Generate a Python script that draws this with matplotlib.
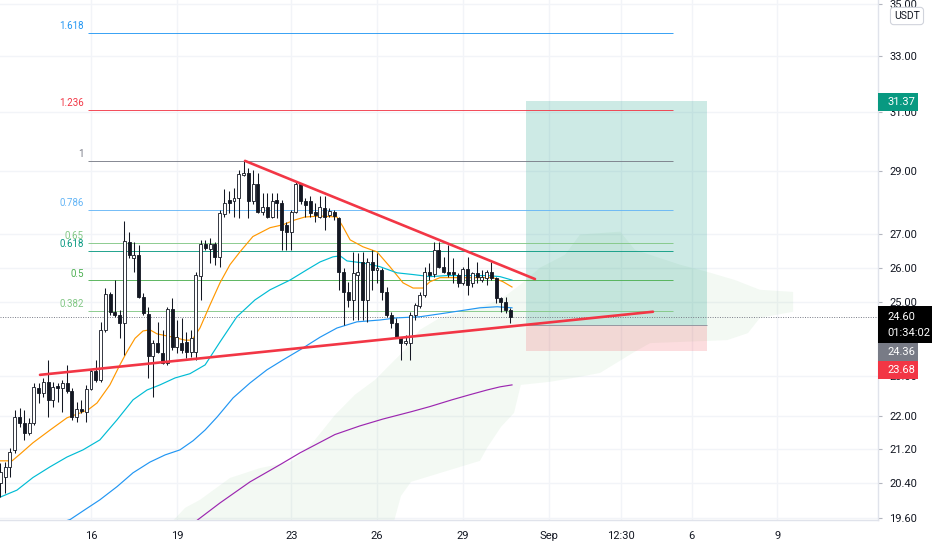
import numpy as np
import matplotlib
matplotlib.use("Agg")
import matplotlib.pyplot as plt
from matplotlib.patches import Rectangle, Polygon
from matplotlib.ticker import NullLocator

plt.rcParams['font.family'] = ['Roboto', 'DejaVu Sans']

# ---------------- data ----------------
# 4h candles, last bar Aug 30 16:00 (x axis = day of month, Sep = 31 + d)
last_bar_day = 30 + 16 / 24
bars_per_day = 6

opens = [20.40, 20.54, 20.77, 21.17, 21.97, 21.83, 21.58, 21.83, 22.71, 22.58,
         22.86, 22.40, 22.76, 22.71, 22.83, 22.63, 21.97, 22.18, 22.10, 22.68,
         23.14, 22.91, 24.24, 25.24, 24.74, 24.65, 24.43, 26.75, 26.29, 26.38,
         25.16, 24.68, 23.54, 23.88, 23.62, 23.36, 24.82, 23.78, 23.88, 23.91,
         23.65, 23.65, 25.77, 26.71, 26.56, 26.71, 26.32, 27.62, 28.06, 28.02,
         28.14, 28.85, 28.94, 28.02, 28.56, 27.69, 27.85, 27.53, 28.06, 27.98,
         27.29, 27.08, 27.69, 28.56, 28.02, 28.02, 27.69, 27.53, 27.82, 27.60,
         27.69, 27.50, 25.88, 25.30, 25.07, 25.80, 26.17, 25.07, 26.17, 25.94,
         25.94, 25.30, 24.65, 24.43, 24.04, 23.88, 23.88, 24.65, 24.90, 25.21,
         25.88, 25.82, 26.53, 26.03, 25.88, 25.88, 25.80, 25.56, 25.97, 25.56,
         25.85, 25.64, 25.71, 25.88, 25.71, 25.13, 25.02, 24.79]
highs = [20.86, 20.88, 21.22, 22.15, 22.20, 22.15, 21.95, 22.83, 22.83, 22.96,
         23.43, 22.86, 22.83, 22.91, 23.30, 22.71, 22.35, 22.40, 22.78, 23.20,
         23.43, 24.46, 25.41, 25.30, 25.64, 24.79, 27.41, 27.08, 26.75, 26.68,
         25.27, 24.88, 23.96, 24.46, 24.24, 24.88, 25.13, 24.51, 24.57, 24.18,
         24.24, 25.88, 26.83, 26.83, 26.89, 26.77, 27.75, 28.42, 28.34, 28.46,
         29.03, 29.33, 29.10, 29.03, 28.94, 28.30, 28.30, 28.30, 28.30, 28.06,
         27.38, 27.75, 28.66, 28.62, 28.14, 28.18, 27.98, 28.18, 28.18, 27.82,
         27.75, 27.53, 26.00, 25.59, 26.47, 26.44, 26.47, 26.29, 26.53, 26.44,
         26.00, 25.44, 24.74, 24.57, 24.04, 24.10, 24.74, 24.99, 25.30, 26.03,
         26.14, 26.77, 26.75, 26.32, 26.68, 26.29, 25.85, 26.03, 26.32, 25.88,
         26.17, 25.94, 25.94, 26.17, 25.74, 25.16, 25.16, 24.85]
lows = [20.07, 20.17, 20.54, 21.10, 21.73, 21.41, 21.53, 21.78, 22.32, 22.48,
        21.97, 22.22, 22.35, 22.10, 22.58, 21.90, 21.85, 22.07, 21.85, 22.65,
        22.86, 22.86, 24.18, 24.65, 24.60, 24.01, 23.57, 26.29, 25.88, 25.13,
        24.65, 22.96, 22.48, 23.62, 23.33, 23.30, 23.70, 23.62, 23.62, 23.49,
        23.51, 23.43, 25.07, 26.53, 26.14, 26.09, 26.03, 27.53, 27.65, 27.53,
        27.50, 28.82, 27.50, 27.95, 27.65, 27.60, 27.50, 27.50, 27.50, 26.53,
        26.53, 26.53, 27.65, 27.95, 27.53, 27.53, 27.38, 27.50, 27.13, 27.53,
        27.44, 25.36, 24.37, 24.88, 24.51, 24.51, 24.51, 24.46, 25.36, 25.56,
        25.07, 24.60, 24.29, 24.01, 23.43, 23.83, 23.43, 24.51, 24.85, 25.16,
        25.64, 25.74, 26.00, 25.85, 25.74, 25.56, 25.45, 25.50, 25.21, 25.45,
        25.56, 25.59, 25.50, 25.64, 24.99, 24.74, 24.71, 24.43]
closes = [20.65, 20.77, 21.12, 21.97, 21.83, 21.58, 21.83, 22.73, 22.58, 22.86,
          22.40, 22.73, 22.71, 22.83, 22.63, 21.97, 22.18, 22.12, 22.68, 23.14,
          22.91, 24.24, 25.24, 24.74, 24.65, 24.43, 26.78, 26.38, 26.38, 25.16,
          24.71, 23.54, 23.88, 23.65, 23.36, 24.82, 23.78, 24.04, 23.70, 23.65,
          24.01, 25.80, 26.71, 26.59, 26.71, 26.32, 27.65, 27.98, 27.98, 28.14,
          28.91, 28.94, 28.02, 28.56, 27.69, 27.85, 27.53, 28.02, 27.98, 27.13,
          27.08, 27.69, 28.56, 28.02, 27.92, 27.65, 27.60, 27.85, 27.53, 27.72,
          27.57, 25.88, 25.30, 25.07, 25.85, 25.88, 25.07, 26.17, 25.94, 26.00,
          25.30, 24.65, 24.43, 24.04, 23.88, 23.93, 24.65, 24.93, 25.21, 25.88,
          25.80, 26.53, 26.03, 25.88, 25.82, 25.82, 25.56, 25.97, 25.50, 25.85,
          25.74, 25.74, 25.88, 25.71, 25.13, 25.02, 24.79, 24.60]

# moving averages (day, price)
ema_fast_days = [12.82, 13.24, 13.52, 13.97, 14.57, 15.16, 15.62, 15.90, 16.21, 16.66,
                 17.01, 17.26, 17.54, 17.82, 18.06, 18.31, 18.87, 19.29, 19.53, 19.81,
                 20.16, 20.51, 20.86, 21.21, 21.66, 22.26, 22.71, 23.13, 23.48, 24.01,
                 24.60, 24.81, 25.06, 25.51, 26.00, 26.45, 26.91, 27.26, 27.61, 27.85,
                 28.20, 28.80, 29.60, 30.06, 30.41, 30.72]
ema_fast_vals = [20.91, 20.91, 21.07, 21.34, 21.65, 21.95, 22.07, 22.15, 22.32, 22.78,
                 23.30, 23.65, 24.01, 24.21, 24.24, 24.13, 24.04, 23.96, 23.96, 24.29,
                 24.93, 25.56, 26.09, 26.47, 26.93, 27.20, 27.29, 27.44, 27.53, 27.56,
                 27.53, 27.23, 26.83, 26.62, 26.47, 26.03, 25.56, 25.41, 25.41, 25.59,
                 25.71, 25.71, 25.71, 25.71, 25.59, 25.44]

ema_mid_days = [12.82, 13.41, 13.97, 14.57, 15.16, 15.72, 16.31, 16.91, 17.47, 17.96,
                18.41, 18.94, 19.46, 19.99, 20.51, 21.10, 21.73, 22.26, 22.96, 23.55,
                24.01, 24.46, 24.71, 24.95, 25.51, 26.10, 26.70, 27.26, 27.85, 28.45,
                29.15, 29.85, 30.30, 30.72]
ema_mid_vals = [20.07, 20.23, 20.52, 20.77, 21.00, 21.17, 21.41, 21.90, 22.40, 22.65,
                22.78, 22.96, 23.07, 23.30, 23.91, 24.60, 25.07, 25.36, 25.64, 25.94,
                26.17, 26.32, 26.35, 26.20, 26.14, 26.03, 25.85, 25.80, 25.74, 25.77,
                25.77, 25.77, 25.74, 25.64]

ema_slow_days = [14.92, 15.27, 15.79, 16.31, 16.91, 17.47, 18.06, 18.59, 19.11, 19.57,
                 19.99, 20.41, 20.97, 21.56, 22.15, 22.71, 23.31, 24.01, 24.60, 25.30,
                 26.10, 26.70, 27.50, 28.45, 29.60, 30.20, 30.72]
ema_slow_vals = [19.50, 19.57, 19.79, 20.01, 20.31, 20.63, 20.88, 21.05, 21.17, 21.39,
                 21.65, 21.97, 22.45, 22.83, 23.17, 23.43, 23.70, 24.04, 24.29, 24.46,
                 24.51, 24.57, 24.60, 24.71, 24.85, 24.88, 24.85]

ema_long_days = [19.64, 20.51, 21.56, 22.61, 23.31, 24.53, 25.40, 26.21, 27.19, 27.85,
                 28.62, 29.25, 29.85, 30.30, 30.72]
ema_long_vals = [19.52, 19.94, 20.42, 20.82, 21.10, 21.54, 21.75, 21.92, 22.10, 22.23,
                 22.40, 22.53, 22.65, 22.73, 22.78]

# ichimoku-like cloud outline (upper edge left->right, lower edge right->left)
cloud_upper_days = [18.83, 19.29, 19.81, 20.86, 21.91, 22.96, 23.31, 23.83, 24.53, 25.23,
                    25.93, 26.45, 26.98, 27.50, 28.20, 29.25, 30.30, 31.00, 31.70, 32.57,
                    33.10, 34.50, 35.02, 36.59, 37.54, 38.52, 39.39, 40.55]
cloud_upper_vals = [19.52, 19.83, 20.01, 20.51, 20.74, 20.88, 21.05, 21.41, 22.02, 22.53,
                    22.91, 23.30, 23.70, 24.24, 24.57, 24.79, 25.07, 25.50, 26.00, 26.38,
                    26.99, 27.08, 26.53, 26.09, 25.88, 25.64, 25.36, 25.30]
cloud_lower_days = [40.55, 39.39, 38.97, 38.24, 35.55, 34.95, 34.39, 33.80, 33.10, 32.05,
                    31.03, 30.79, 30.34, 29.85, 29.60, 27.19, 26.84, 26.59]
cloud_lower_vals = [24.74, 24.57, 24.15, 23.96, 23.88, 23.62, 23.36, 23.09, 22.99, 22.86,
                    22.78, 22.07, 21.73, 21.22, 20.91, 20.42, 20.10, 19.52]

# fibonacci retracement
fib_low, fib_high = 21.94, 29.33
fib_levels = [0.382, 0.5, 0.618, 0.65, 0.786, 1.0, 1.236, 1.618]
fib_labels = ['0.382', '0.5', '0.618', '0.65', '0.786', '1', '1.236', '1.618']
fib_colors = ['#81c784', '#4caf50', '#089981', '#81c784', '#64b5f6', '#787b86', '#f23645', '#2196f3']
fib_start_day, fib_end_day = 15.895, 36.35

# trend lines (day, price)
upper_trend = ([21.385, 31.524], [29.33, 25.67])
lower_trend = ([14.217, 35.65], [23.04, 24.74])

# long position tool
pos_start_day, pos_end_day = 31.21, 37.54
pos_target, pos_entry, pos_stop = 31.37, 24.36, 23.68
last_price = 24.60
countdown = '01:34:02'

y_ticks = [19.6, 20.4, 21.2, 22, 23, 25, 26, 27, 29, 31, 33, 35]
x_ticks = [16, 19, 23, 26, 29, 32, 34.52, 37, 40]
x_labels = ['16', '19', '23', '26', '29', 'Sep', '12:30', '6', '9']

# ---------------- figure ----------------
W, H = 932, 550
fig = plt.figure(figsize=(W / 100, H / 100), dpi=100)
ax = fig.add_axes([0, 30 / H, 878 / W, 520 / H])
ax.set_yscale('log')
ax.set_xlim(12.818, 43.518)
ax.set_ylim(19.56, 35.166)

# grid / axes
ax.set_yticks(y_ticks)
ax.set_yticklabels(['%.2f' % v for v in y_ticks])
ax.yaxis.set_minor_locator(NullLocator())
ax.set_xticks(x_ticks)
ax.set_xticklabels(x_labels)
ax.yaxis.tick_right()
ax.tick_params(axis='y', which='major', length=3, color='#b2b5be', pad=5,
               labelsize=8, labelcolor='#131722')
ax.tick_params(axis='x', length=0, pad=8, labelsize=8, labelcolor='#131722')
ax.grid(True, color='#f2f4f8', lw=1, zorder=0)
ax.set_axisbelow(True)
for s in ['top', 'left']:
    ax.spines[s].set_visible(False)
for s in ['right', 'bottom']:
    ax.spines[s].set_color('#e0e3eb')
    ax.spines[s].set_linewidth(1)

# cloud
cloud_pts = list(zip(cloud_upper_days, cloud_upper_vals)) + list(zip(cloud_lower_days, cloud_lower_vals))
ax.add_patch(Polygon(cloud_pts, closed=True, facecolor='#66bb6a', alpha=0.08,
                     edgecolor='none', zorder=1))

# position box
ax.fill_between([pos_start_day, pos_end_day], pos_entry, pos_target,
                color='#089981', alpha=0.2, lw=0, zorder=1.5)
ax.fill_between([pos_start_day, pos_end_day], pos_stop, pos_entry,
                color='#f23645', alpha=0.17, lw=0, zorder=1.5)
ax.hlines(pos_entry, pos_start_day, pos_end_day, color='#9598a1', lw=0.7, zorder=1.6)

# fib lines + labels
for lvl, lab, col in zip(fib_levels, fib_labels, fib_colors):
    price = fib_low + lvl * (fib_high - fib_low)
    ax.hlines(price, fib_start_day, fib_end_day, color=col, lw=0.7, alpha=0.9, zorder=2)
    ax.annotate(lab, xy=(fib_start_day - 0.14, price), xytext=(0, 1.2),
                textcoords='offset points', ha='right', va='bottom',
                fontsize=7, color=col, zorder=2)

# last price dotted line
ax.axhline(last_price, color='#787b86', lw=0.7, ls=(0, (1, 1.5)), zorder=2.5)

# moving averages
ax.plot(ema_fast_days, ema_fast_vals, color='#ff9800', lw=0.85, zorder=3)
ax.plot(ema_mid_days, ema_mid_vals, color='#00bcd4', lw=0.85, zorder=3)
ax.plot(ema_slow_days, ema_slow_vals, color='#2196f3', lw=0.85, zorder=3)
ax.plot(ema_long_days, ema_long_vals, color='#9c27b0', lw=0.85, zorder=3)

# candles
n = len(opens)
days = last_bar_day - (n - 1 - np.arange(n)) / bars_per_day
bw = 0.62 / bars_per_day
ax.vlines(days, lows, highs, color='#131722', lw=0.75, zorder=4)
for d, o, c in zip(days, opens, closes):
    lo, hi = min(o, c), max(o, c)
    if hi - lo < 0.02:
        hi = lo + 0.02
    fc = 'white' if c >= o else '#131722'
    ax.add_patch(Rectangle((d - bw / 2, lo), bw, hi - lo, facecolor=fc,
                           edgecolor='#131722', lw=0.6, zorder=5))

# trend lines
ax.plot(*upper_trend, color='#f23645', lw=1.9, solid_capstyle='round', zorder=6)
ax.plot(*lower_trend, color='#f23645', lw=1.9, solid_capstyle='round', zorder=6)


# ---------------- price-axis labels ----------------
def px_box(x0, y0, w, h, color):
    fig.add_artist(Rectangle((x0 / W, 1 - (y0 + h) / H), w / W, h / H,
                             transform=fig.transFigure, facecolor=color,
                             edgecolor='none', zorder=5))


def px_text(x, y, s, color='white', size=8, **kw):
    fig.text(x / W, 1 - y / H, s, color=color, fontsize=size, ha='left',
             va='center', zorder=6, **kw)


px_box(878, 93, 40, 18, '#089981')
px_text(887, 102, '%.2f' % pos_target)
px_box(878, 306, 54, 37, '#000000')
px_text(887, 317, '%.2f' % last_price)
px_text(887, 333, countdown)
px_box(878, 343, 40, 18, '#787b86')
px_text(887, 352, '%.2f' % pos_entry)
px_box(878, 361, 40, 18, '#f23645')
px_text(887, 370, '%.2f' % pos_stop)

fig.text(907 / W, 1 - 16 / H, 'USDT', fontsize=7.5, color='#131722', ha='center',
         va='center', zorder=6,
         bbox=dict(boxstyle='round,pad=0.35,rounding_size=0.3', facecolor='white',
                   edgecolor='#d1d4dc', lw=0.8))

fig.savefig('out.png', dpi=100)
